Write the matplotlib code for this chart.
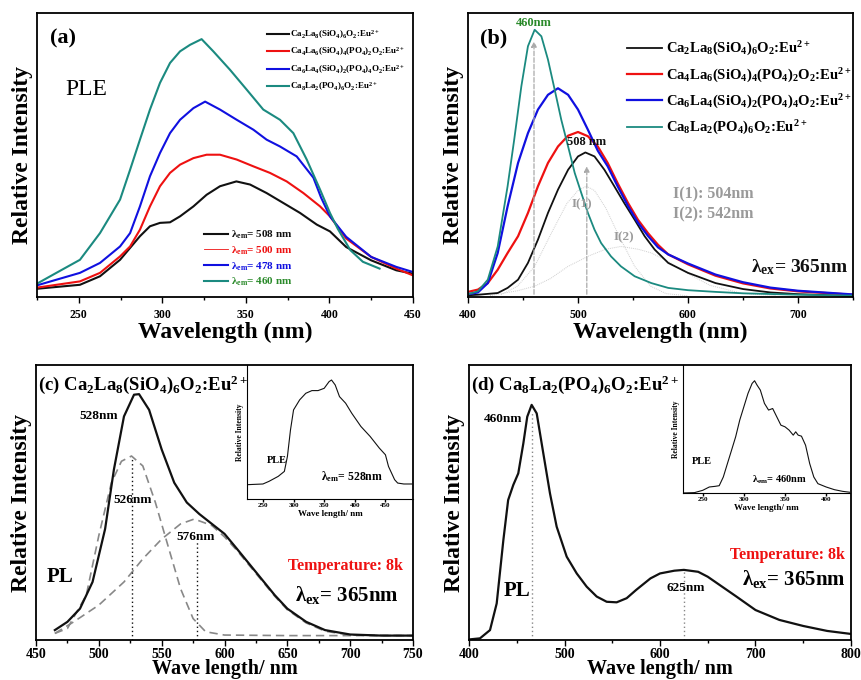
import numpy as np
import matplotlib
matplotlib.use('Agg')
import matplotlib.pyplot as plt
from matplotlib.ticker import MultipleLocator

plt.rcParams['font.family'] = ['Liberation Serif', 'DejaVu Serif']
plt.rcParams['font.weight'] = 'bold'
plt.rcParams['axes.labelweight'] = 'bold'
plt.rcParams['mathtext.fontset'] = 'custom'
plt.rcParams['mathtext.rm'] = 'Liberation Serif:bold'
plt.rcParams['mathtext.bf'] = 'Liberation Serif:bold'
plt.rcParams['mathtext.it'] = 'Liberation Serif:bold'
plt.rcParams['mathtext.default'] = 'bf'

# ---------------- data ----------------
# (a) PLE spectra
a_black_x = [225, 250.7, 262.7, 274.7, 286.6, 292.6, 298.6, 304.6, 310.6, 318.6, 326.5, 334.5, 344.3, 352.5, 362.4, 372.4, 382.4, 392.4, 400.3, 410, 425, 440, 450]
a_black_y = [2.9, 4.3, 7.3, 13.1, 21.4, 24.9, 26.1, 26.3, 28.4, 31.9, 36, 39, 40.7, 39.6, 36.6, 33.1, 29.6, 25.5, 23.1, 17.6, 12.9, 9.4, 8.2]
a_red_x = [225, 250.7, 262.7, 274.7, 280.7, 286.6, 292.6, 298.6, 304.6, 310.6, 318.6, 326.5, 334.5, 344.5, 354.5, 364.4, 374.4, 384.4, 394.4, 400.3, 410, 425, 440, 450]
a_red_y = [3.3, 5.5, 8.5, 14.3, 17.8, 23.7, 31.9, 39, 43.7, 46.6, 48.9, 50.1, 50.1, 48.4, 46, 43.7, 40.7, 36.6, 31.9, 28.4, 20.6, 14.1, 10, 7.6]
a_blue_x = [225, 250.7, 262.7, 274.7, 280.7, 286.6, 292.6, 298.6, 304.6, 310.6, 318.6, 325.6, 334.5, 344.5, 354.5, 362.4, 370.4, 380.4, 390.4, 395, 400.3, 410, 425, 440, 450]
a_blue_y = [4.1, 8.5, 12, 17.8, 22.5, 31.9, 42.5, 50.7, 57.7, 62.4, 66.5, 68.8, 66, 62.4, 58.9, 55.4, 53, 49.5, 42, 35, 28.4, 21.2, 14.1, 10.6, 8.8]
a_teal_x = [225, 237.5, 250.7, 262.7, 274.7, 280.7, 286.6, 292.6, 298.6, 304.6, 310.6, 316.6, 323.5, 330.5, 340.5, 350.5, 360.4, 370.4, 378.4, 386.4, 394.4, 400.3, 405, 412.5, 420, 430]
a_teal_y = [4.7, 8.8, 13.1, 22.5, 34.3, 44.8, 55.4, 66, 75.4, 82.4, 86.5, 88.8, 90.8, 86.5, 80, 73, 66, 62.4, 57.7, 48.4, 37.8, 29.6, 24, 16.5, 12.4, 10]

# (b) PL spectra
b_black_x = [400, 409, 427, 436, 445.5, 454.5, 463.6, 472.7, 481.8, 491, 500, 506.7, 515, 524, 533, 542, 551.5, 560.6, 569.7, 582, 600, 625, 650, 675, 700, 750]
b_black_y = [0.6, 0.8, 1.4, 3.2, 6.1, 12, 20.2, 29.6, 37.8, 44.8, 49.5, 50.9, 49.5, 44.8, 39, 33.1, 27.2, 21.4, 16.7, 12, 8.5, 4.9, 2.8, 1.6, 1, 0.4]
b_red_x = [400, 409, 418, 427, 436, 445.5, 454.5, 463.6, 472.7, 481.8, 491, 500, 509, 518, 527, 536, 545.5, 554.5, 563.6, 572.7, 582, 600, 625, 650, 675, 700, 750]
b_red_y = [1.8, 2.6, 4.9, 9.6, 15.5, 21.4, 29.6, 39, 47.2, 53, 56.8, 58.1, 56.6, 53, 47.2, 40.1, 33.1, 27.2, 22.5, 18.4, 15, 11.5, 7.5, 4.8, 3, 2, 0.8]
b_blue_x = [400, 409, 418, 427, 436, 445.5, 454.5, 463.6, 472.7, 481.8, 491, 500, 509, 518, 527, 536, 545.5, 554.5, 563.6, 572.7, 582, 600, 625, 650, 675, 700, 750]
b_blue_y = [1.0, 1.6, 4.9, 15.5, 31.9, 47.2, 57.7, 66, 71.2, 73.5, 71.2, 66, 58.9, 51.5, 46, 39, 32, 26.2, 21.5, 17.5, 15, 11.8, 7.9, 5.2, 3.3, 2.2, 0.9]
b_teal_x = [400, 409, 418, 427, 436, 442, 448.5, 454.5, 460.6, 466.7, 472.7, 478.8, 484.8, 491, 497, 503, 509, 515, 521, 530, 539, 551.5, 566.7, 582, 600, 625, 650, 700, 750]
b_teal_y = [1.0, 2, 6.1, 17.8, 39, 55.4, 74.2, 88.3, 94.1, 91.8, 83.6, 73, 62.4, 53, 43.7, 36.6, 29.6, 23.7, 19, 14.3, 10.8, 7.3, 4.9, 3.2, 2.4, 1.8, 1.3, 0.8, 0.5]
b_i1_x = [430, 445, 460.6, 475.8, 490, 500, 507.6, 515, 525, 536, 551.5, 566, 580, 600]
b_i1_y = [0.8, 3.8, 10.8, 22.5, 33, 37.5, 39, 37.5, 31.5, 22.5, 10.8, 3.8, 1.2, 0.4]
b_i2_x = [420, 445, 460.6, 475, 491, 510, 525, 539, 555, 566.7, 582, 600, 620, 650, 680]
b_i2_y = [0.5, 2.2, 3.8, 6.5, 10.8, 14.5, 16.8, 17.8, 16.8, 15.5, 12.5, 8.2, 4.1, 1.2, 0.5]

# (c) PL of Ca2La8(SiO4)6O2:Eu2+
c_x = [465, 475, 485, 495, 505, 512, 520, 528, 532, 540, 550, 560, 570, 580, 590, 600, 610, 625, 640, 650, 665, 680, 700, 725, 750]
c_main = [3.6, 6.6, 11.4, 21.1, 40.4, 62, 81.3, 89.2, 89.4, 83.7, 69.3, 57.2, 50, 45.8, 42.2, 38.6, 33.1, 24.7, 16.3, 11.4, 6.6, 3.6, 2, 1.6, 1.6]
c_g1_x = [465, 475, 490, 500, 510, 518, 526, 535, 545, 555, 565, 575, 585, 600, 650, 750]
c_g1_y = [2.4, 4.2, 16.3, 38, 57.2, 65, 66.9, 63.3, 50, 34.3, 18.7, 7.8, 3, 1.8, 1.6, 1.6]
c_g2_x = [465, 480, 500, 520, 535, 550, 565, 576, 590, 600, 610, 625, 640, 650, 665, 680, 700, 750]
c_g2_y = [2.4, 6.6, 12.7, 21.1, 29.5, 36.7, 42.2, 44, 41.6, 37.5, 32.5, 24.2, 15.9, 11, 6.2, 3.2, 1.8, 1.6]
ci_x = [225, 250, 260, 275, 285, 290, 295, 300, 310, 320, 330, 340, 350, 358, 362, 368, 375, 385, 395, 410, 425, 440, 450, 455, 465, 470, 480, 495]
ci_y = [10.7, 11.2, 13.2, 16.9, 20.6, 31.8, 51.6, 66.5, 74, 78.9, 80.9, 80.9, 82.6, 87.6, 88.8, 85.1, 76.4, 71.5, 64, 54.1, 46.7, 38, 33, 24.3, 14.4, 11.9, 11.2, 11.2]

# (d) PL of Ca8La2(PO4)6O2:Eu2+
d_x = [400, 411.5, 422, 429, 436, 441, 446.4, 451.6, 456.9, 461, 465.6, 470.9, 477.8, 484.8, 491.8, 502.3, 512.8, 523.2, 533.7, 544.2, 554.6, 565.1, 575, 590, 600, 615, 625, 640, 650, 665, 680, 700, 725, 750, 775, 800]
d_y = [0.2, 0.6, 3.6, 13.3, 36.4, 50.9, 56.4, 60.6, 71.5, 81.2, 85.5, 82.4, 67.9, 53.3, 41.2, 30.3, 24.2, 19.4, 15.8, 13.9, 13.7, 15.2, 18.2, 22.4, 24.2, 25.2, 25.5, 24.8, 23, 19.4, 15.8, 10.9, 7.3, 5.1, 3.3, 2.2]
di_x = [225, 240, 250, 258, 265, 270, 275, 280, 285, 290, 295, 300, 305, 310, 313, 316, 320, 325, 330, 335, 340, 345, 350, 355, 360, 363, 366, 370, 375, 380, 385, 390, 400, 410, 420, 430]
di_y = [0, 0.3, 2.1, 4.7, 5.2, 5.7, 12.5, 23, 33.4, 43.9, 57, 67.4, 77.8, 85.6, 87.7, 84.3, 80.4, 70, 64.8, 66, 59.5, 53, 51.7, 49.1, 45.2, 47.8, 45.2, 44.4, 37.3, 23, 12.5, 7.3, 4.7, 2.6, 1.3, 0.5]

names = ['Ca$_2$La$_8$(SiO$_4$)$_6$O$_2$:Eu$^{2+}$',
         'Ca$_4$La$_6$(SiO$_4$)$_4$(PO$_4$)$_2$O$_2$:Eu$^{2+}$',
         'Ca$_6$La$_4$(SiO$_4$)$_2$(PO$_4$)$_4$O$_2$:Eu$^{2+}$',
         'Ca$_8$La$_2$(PO$_4$)$_6$O$_2$:Eu$^{2+}$']
em_labels = ['λ$_{\\rm em}$= 508 nm', 'λ$_{\\rm em}$= 500 nm', 'λ$_{\\rm em}$= 478 nm', 'λ$_{\\rm em}$= 460 nm']

BLACK = '#111111'
RED = '#ee1111'
BLUE = '#1010e0'
TEAL = '#1b8a80'
GREEN = '#2a8a2a'
GRAY = '#9a9a9a'

W, H = 862, 680
fig = plt.figure(figsize=(W / 100, H / 100), dpi=100)


def add_ax(l, t, r, b):
    return fig.add_axes([l / W, 1 - b / H, (r - l) / W, (b - t) / H])


def style(ax, major, minor, lsize=10, pad=2):
    ax.set_yticks([])
    ax.xaxis.set_major_locator(MultipleLocator(major))
    ax.xaxis.set_minor_locator(MultipleLocator(minor))
    ax.tick_params(axis='x', which='major', direction='out', length=4, width=1, labelsize=lsize, pad=pad)
    ax.tick_params(axis='x', which='minor', direction='out', length=2.5, width=1)
    for s in ax.spines.values():
        s.set_linewidth(1.3)


# ---------- (a) ----------
axa = add_ax(37, 13, 413, 297)
axa.plot(a_black_x, a_black_y, color=BLACK, lw=1.5)
axa.plot(a_red_x, a_red_y, color=RED, lw=1.5)
axa.plot(a_blue_x, a_blue_y, color=BLUE, lw=1.5)
axa.plot(a_teal_x, a_teal_y, color=TEAL, lw=1.5)
axa.set_xlim(225, 450)
axa.set_ylim(0, 100)
style(axa, 50, 25, lsize=8.5, pad=5)
axa.set_xlabel('Wavelength (nm)', fontsize=17, labelpad=0)
axa.set_ylabel('Relative Intensity', fontsize=17, labelpad=3)
axa.text(0.035, 0.945, '(a)', transform=axa.transAxes, fontsize=16, va='top')
axa.text(0.075, 0.732, 'PLE', transform=axa.transAxes, fontsize=17, fontweight='normal', va='center')
h1 = [plt.Line2D([], [], color=c, lw=1.5) for c in [BLACK, RED, BLUE, TEAL]]
leg1 = axa.legend(h1, names, loc='upper left', bbox_to_anchor=((267 - 37) / 376, (297 - 28) / 284),
                  frameon=False, borderaxespad=0, borderpad=0,
                  fontsize=6.5, handlelength=2.4, handletextpad=0.2, labelspacing=0.55)
axa.add_artist(leg1)
h2 = [plt.Line2D([], [], color=BLACK, lw=1.5), plt.Line2D([], [], color=RED, lw=0.6),
      plt.Line2D([], [], color=BLUE, lw=1.5), plt.Line2D([], [], color=TEAL, lw=1.5)]
leg2 = axa.legend(h2, em_labels, loc='lower left', bbox_to_anchor=((204 - 37) / 376, 0.03),
                  frameon=False, borderaxespad=0, borderpad=0,
                  fontsize=8, handlelength=2.2, handletextpad=0.2, labelspacing=0.3)
for t, c in zip(leg2.get_texts(), [BLACK, RED, BLUE, GREEN]):
    t.set_color(c)

# ---------- (b) ----------
axb = add_ax(468, 13, 853, 297)
axb.plot(b_i1_x, b_i1_y, color='#cfcfcf', lw=0.7, ls=(0, (1, 1)))
axb.plot(b_i2_x, b_i2_y, color='#cfcfcf', lw=0.7, ls=(0, (1, 1)))
lb1, = axb.plot(b_black_x, b_black_y, color=BLACK, lw=1.3)
lb2, = axb.plot(b_red_x, b_red_y, color=RED, lw=1.6)
lb3, = axb.plot(b_blue_x, b_blue_y, color=BLUE, lw=1.6)
lb4, = axb.plot(b_teal_x, b_teal_y, color=TEAL, lw=1.3)
axb.annotate('', xy=(460, 91), xytext=(460, 0),
             arrowprops=dict(arrowstyle='-|>', color='#aaaaaa', lw=0.9, ls='--', mutation_scale=8))
axb.annotate('', xy=(508, 47), xytext=(508, 0),
             arrowprops=dict(arrowstyle='-|>', color='#aaaaaa', lw=0.9, ls='--', mutation_scale=8))
axb.set_xlim(400, 750)
axb.set_ylim(0, 100)
style(axb, 100, 50, lsize=8.5, pad=5)
axb.set_xlabel('Wavelength (nm)', fontsize=17, labelpad=0)
axb.set_ylabel('Relative Intensity', fontsize=17, labelpad=3)
axb.text(0.03, 0.945, '(b)', transform=axb.transAxes, fontsize=16, va='top')
axb.text(460, 96.5, '460nm', color=GREEN, fontsize=9, ha='center', va='center')
axb.text(508, 54.5, '508 nm', color=BLACK, fontsize=9, ha='center', va='center')
axb.text(504, 32.5, 'I(1)', color=GRAY, fontsize=9.5, ha='center', va='center')
axb.text(542, 21, 'I(2)', color=GRAY, fontsize=9.5, ha='center', va='center')
axb.text(586, 36, 'I(1): 504nm', color=GRAY, fontsize=11.5, ha='left', va='center')
axb.text(586, 29, 'I(2): 542nm', color=GRAY, fontsize=11.5, ha='left', va='center')
axb.text(745, 10.5, 'λ$_{\\rm ex}$= 365nm', color=BLACK, fontsize=14, ha='right', va='center')
axb.legend([lb1, lb2, lb3, lb4], names, loc='upper left',
           bbox_to_anchor=((627 - 468) / 385, (297 - 40) / 284),
           frameon=False, borderaxespad=0, borderpad=0,
           fontsize=10.5, handlelength=2.4, handletextpad=0.25, labelspacing=0.55)

# ---------- (c) ----------
axc = add_ax(36, 365, 413, 640)
axc.plot(c_g1_x, c_g1_y, color='#888888', lw=1.2, ls=(0, (5, 3)))
axc.plot(c_g2_x, c_g2_y, color='#888888', lw=1.2, ls=(0, (5, 3)))
axc.plot(c_x, c_main, color=BLACK, lw=1.6)
axc.vlines(526, 0, 66, colors=BLACK, lw=1, linestyles=(0, (1, 2)))
axc.vlines(578, 0, 36, colors=BLACK, lw=1, linestyles=(0, (1, 2)))
axc.set_xlim(450, 750)
axc.set_ylim(0, 100)
style(axc, 50, 25, pad=1.5)
axc.set_xlabel('Wave length/ nm', fontsize=14.5, labelpad=-1)
axc.set_ylabel('Relative Intensity', fontsize=17, labelpad=3)
axc.text(0.005, 0.97, '(c) ' + names[0], transform=axc.transAxes, fontsize=13.5, va='top')
axc.text(500, 81.5, '528nm', fontsize=9.5, ha='center', va='center')
axc.text(527, 51, '526nm', fontsize=9.5, ha='center', va='center')
axc.text(577, 37.3, '576nm', fontsize=9.5, ha='center', va='center')
axc.text(469, 22.9, 'PL', fontsize=15, ha='center', va='center')
axc.text(696, 27, 'Temperature: 8k', color=RED, fontsize=11.5, ha='center', va='center')
axc.text(697, 16.3, 'λ$_{\\rm ex}$= 365nm', fontsize=15, ha='center', va='center')

axci = add_ax(247, 365, 413, 499)
axci.plot(ci_x, ci_y, color=BLACK, lw=0.8)
axci.set_xlim(224, 495)
axci.set_ylim(0, 100)
style(axci, 50, 25, lsize=5)
axci.tick_params(axis='x', which='major', length=2, pad=1)
axci.tick_params(axis='x', which='minor', length=0)
axci.spines['top'].set_visible(False)
axci.spines['right'].set_visible(False)
for s in axci.spines.values():
    s.set_linewidth(0.8)
axci.patch.set_alpha(0)
axci.set_xlabel('Wave length/ nm', fontsize=6.5, labelpad=1)
axci.set_ylabel('Relative Intensity', fontsize=5.5, labelpad=2)
axci.text(256, 28.5, 'PLE', fontsize=7.5, ha='left', va='center')
axci.text(395, 16.5, 'λ$_{\\rm em}$= 528nm', fontsize=8.5, ha='center', va='center')

# ---------- (d) ----------
axd = add_ax(469, 365, 851, 640)
axd.plot(d_x, d_y, color=BLACK, lw=1.6)
axd.vlines(466, 0, 83, colors='#888888', lw=1, linestyles=(0, (1, 2)))
axd.vlines(625, 0, 25, colors='#888888', lw=1, linestyles=(0, (1, 2)))
axd.set_xlim(400, 800)
axd.set_ylim(0, 100)
style(axd, 100, 50, pad=1.5)
axd.set_xlabel('Wave length/ nm', fontsize=14.5, labelpad=-1)
axd.set_ylabel('Relative Intensity', fontsize=17, labelpad=3)
axd.text(0.005, 0.97, '(d) ' + names[3], transform=axd.transAxes, fontsize=13.5, va='top')
axd.text(436, 80.2, '460nm', fontsize=9.5, ha='center', va='center')
axd.text(627, 18.8, '625nm', fontsize=9.5, ha='center', va='center')
axd.text(450, 17.8, 'PL', fontsize=15, ha='center', va='center')
axd.text(733, 30.9, 'Temperature: 8k', color=RED, fontsize=11.5, ha='center', va='center')
axd.text(740, 22, 'λ$_{\\rm ex}$= 365nm', fontsize=15, ha='center', va='center')

axdi = add_ax(683, 365, 850, 493)
axdi.plot(di_x, di_y, color=BLACK, lw=0.8)
axdi.set_xlim(226, 429)
axdi.set_ylim(0, 100)
style(axdi, 50, 25, lsize=5)
axdi.tick_params(axis='x', which='major', length=2, pad=1)
axdi.tick_params(axis='x', which='minor', length=0)
axdi.spines['top'].set_visible(False)
axdi.spines['right'].set_visible(False)
for s in axdi.spines.values():
    s.set_linewidth(0.8)
axdi.patch.set_alpha(0)
axdi.set_xlabel('Wave length/ nm', fontsize=6.5, labelpad=1)
axdi.set_ylabel('Relative Intensity', fontsize=5.5, labelpad=2)
axdi.text(237, 24.3, 'PLE', fontsize=7.5, ha='left', va='center')
axdi.text(343, 10, 'λ$_{\\rm em}$= 460nm', fontsize=7.5, ha='center', va='center')

fig.savefig('out.png', dpi=100)
